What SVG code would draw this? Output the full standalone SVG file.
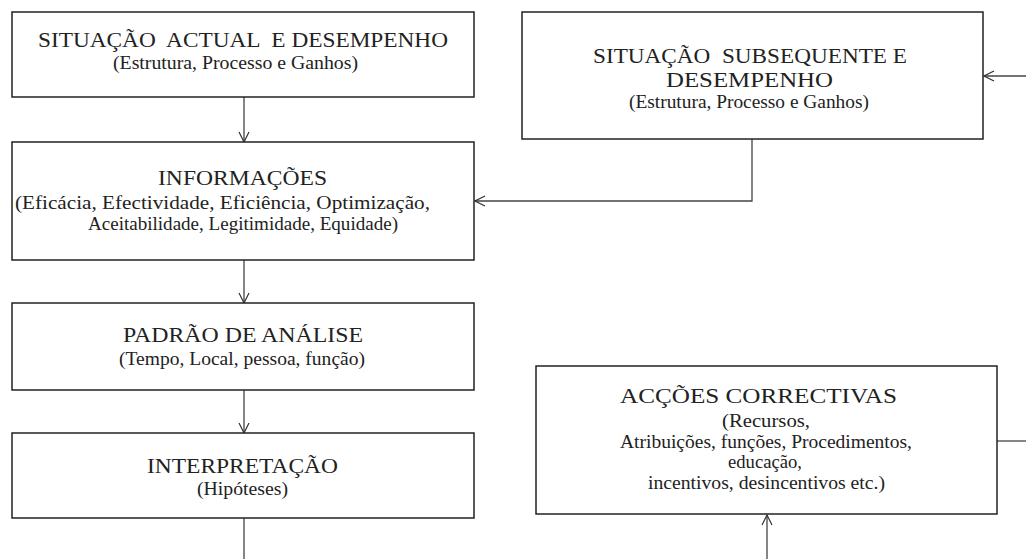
<svg xmlns="http://www.w3.org/2000/svg" width="1026" height="559" viewBox="0 0 1026 559">
<style>
.box{fill:#fff;stroke:#222;stroke-width:1.5}
.t{font-family:"Liberation Serif","Times New Roman",serif;font-size:22px;fill:#222}
.s{font-family:"Liberation Serif","Times New Roman",serif;font-size:18px;fill:#222}
.c{fill:none;stroke:#444;stroke-width:1.3}
</style>
<defs>
<marker id="ah" viewBox="0 0 12 12" refX="11" refY="6" markerWidth="12" markerHeight="12" markerUnits="userSpaceOnUse" orient="auto">
<path d="M1,1 L11,6 L1,11" fill="none" stroke="#333" stroke-width="1.2"/>
</marker>
</defs>
<g id="connectors">
<line class="c" x1="244" y1="97" x2="244" y2="142" marker-end="url(#ah)"/>
<line class="c" x1="244" y1="260" x2="244" y2="303" marker-end="url(#ah)"/>
<line class="c" x1="244" y1="390" x2="244" y2="433" marker-end="url(#ah)"/>
<line class="c" x1="244" y1="518" x2="244" y2="559"/>
<polyline class="c" points="752,139 752,201 475,201" marker-end="url(#ah)"/>
<line class="c" x1="1026" y1="76" x2="984" y2="76" marker-end="url(#ah)"/>
<line class="c" x1="997" y1="441" x2="1026" y2="441"/>
<line class="c" x1="767" y1="559" x2="767" y2="515" marker-end="url(#ah)"/>
</g>
<g id="actual">
<rect class="box" x="12" y="12" width="462" height="85"/>
<text class="t" x="38" y="47" textLength="410" lengthAdjust="spacingAndGlyphs" xml:space="preserve">SITUAÇÃO  ACTUAL  E DESEMPENHO</text>
<text class="s" x="113" y="69" textLength="245" lengthAdjust="spacingAndGlyphs">(Estrutura, Processo e Ganhos)</text>
</g>
<g id="subsequente">
<rect class="box" x="522" y="12" width="461" height="127"/>
<text class="t" x="593" y="63" textLength="314" lengthAdjust="spacingAndGlyphs" xml:space="preserve">SITUAÇÃO  SUBSEQUENTE E</text>
<text class="t" x="666" y="87" textLength="167" lengthAdjust="spacingAndGlyphs">DESEMPENHO</text>
<text class="s" x="629" y="108" textLength="240" lengthAdjust="spacingAndGlyphs">(Estrutura, Processo e Ganhos)</text>
</g>
<g id="informacoes">
<rect class="box" x="12" y="142" width="462" height="118"/>
<text class="t" x="158" y="185" textLength="169" lengthAdjust="spacingAndGlyphs">INFORMAÇÕES</text>
<text class="s" x="15" y="209" textLength="415" lengthAdjust="spacingAndGlyphs">(Eficácia, Efectividade, Eficiência, Optimização,</text>
<text class="s" x="88" y="230" textLength="310" lengthAdjust="spacingAndGlyphs">Aceitabilidade, Legitimidade, Equidade)</text>
</g>
<g id="padrao">
<rect class="box" x="12" y="303" width="462" height="87"/>
<text class="t" x="123" y="342" textLength="240" lengthAdjust="spacingAndGlyphs">PADRÃO DE ANÁLISE</text>
<text class="s" x="119" y="365" textLength="246" lengthAdjust="spacingAndGlyphs">(Tempo, Local, pessoa, função)</text>
</g>
<g id="interpretacao">
<rect class="box" x="12" y="433" width="462" height="85"/>
<text class="t" x="147" y="473" textLength="191" lengthAdjust="spacingAndGlyphs">INTERPRETAÇÃO</text>
<text class="s" x="197" y="495" textLength="91" lengthAdjust="spacingAndGlyphs">(Hipóteses)</text>
</g>
<g id="accoes">
<rect class="box" x="536" y="366" width="461" height="148"/>
<text class="t" x="620" y="403" textLength="277" lengthAdjust="spacingAndGlyphs">ACÇÕES CORRECTIVAS</text>
<text class="s" x="722" y="427" textLength="88" lengthAdjust="spacingAndGlyphs">(Recursos,</text>
<text class="s" x="620" y="448" textLength="292" lengthAdjust="spacingAndGlyphs">Atribuições, funções, Procedimentos,</text>
<text class="s" x="728" y="468" textLength="74" lengthAdjust="spacingAndGlyphs">educação,</text>
<text class="s" x="648" y="489" textLength="237" lengthAdjust="spacingAndGlyphs">incentivos, desincentivos etc.)</text>
</g>
</svg>
